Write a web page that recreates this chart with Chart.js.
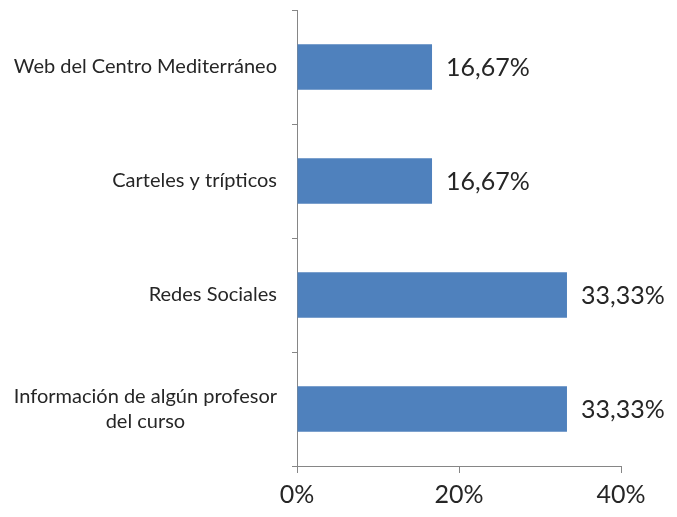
<!DOCTYPE html>
<html>
<head>
<meta charset="utf-8">
<script src="https://cdn.jsdelivr.net/npm/chart.js@4"></script>
<style>
  html, body { margin: 0; padding: 0; background: #fff; }
  #wrap { width: 677px; height: 517px; }
</style>
</head>
<body>
<div id="wrap"><canvas id="barChart" width="677" height="517"></canvas></div>
<script>
// datos del gráfico
const categories = [
  "Web del Centro Mediterráneo",
  "Carteles y trípticos",
  "Redes Sociales",
  ["Información de algún profesor", "del curso"],
]
const values = [16.67, 16.67, 33.33, 33.33]
const valueLabels = ["16,67%", "16,67%", "33,33%", "33,33%"]
const xTickValues = [0, 20, 40]

const textColor = "#262626"
const axisColor = "#868686"
const fontFamily = "Lato, 'Open Sans', sans-serif"

// etiquetas de categorías (centradas entre sí, alineadas a la derecha)
const categoryLabels = {
  id: "categoryLabels",
  afterDraw(chart) {
    const ctx = chart.ctx
    const y = chart.scales.y
    ctx.save()
    ctx.font = "20px " + fontFamily
    ctx.fillStyle = textColor
    ctx.textAlign = "center"
    ctx.textBaseline = "middle"
    const right = 277
    const lineH = 25
    categories.forEach((cat, i) => {
      const lines = Array.isArray(cat) ? cat : [cat]
      const maxW = Math.max(...lines.map((l) => ctx.measureText(l).width))
      const cy = y.getPixelForValue(i)
      const startY = cy - ((lines.length - 1) * lineH) / 2
      lines.forEach((l, k) => {
        ctx.fillText(l, right - maxW / 2, startY + k * lineH)
      })
    })
    ctx.restore()
  },
}

// etiquetas de valores
const valueLabelPlugin = {
  id: "valueLabels",
  afterDatasetsDraw(chart) {
    const ctx = chart.ctx
    const meta = chart.getDatasetMeta(0)
    ctx.save()
    ctx.font = "25px " + fontFamily
    ctx.fillStyle = textColor
    ctx.textAlign = "left"
    ctx.textBaseline = "middle"
    meta.data.forEach((bar, i) => {
      ctx.fillText(valueLabels[i], bar.x + 14, bar.y + 1)
    })
    ctx.restore()
  },
}

const ctx = document.getElementById("barChart").getContext("2d")
new Chart(ctx, {
  type: "bar",
  data: {
    labels: categories,
    datasets: [
      {
        data: values,
        backgroundColor: "#4F81BD",
        borderWidth: 0,
        barPercentage: 0.4,
        categoryPercentage: 1,
      },
    ],
  },
  options: {
    indexAxis: "y",
    responsive: false,
    animation: false,
    layout: { padding: { left: 0, right: 56, top: 10, bottom: 0 } },
    scales: {
      x: {
        min: 0,
        max: 40,
        afterBuildTicks: (scale) => {
          scale.ticks = xTickValues.map((v) => ({ value: v }))
        },
        afterFit: (scale) => {
          scale.height = 51
        },
        border: { display: true, color: axisColor, width: 1 },
        grid: {
          drawOnChartArea: false,
          drawTicks: true,
          tickLength: 7,
          color: axisColor,
        },
        ticks: {
          color: textColor,
          font: { family: fontFamily, size: 25 },
          padding: 7,
          maxRotation: 0,
          callback: (v) => v + "%",
        },
      },
      y: {
        afterFit: (scale) => {
          scale.width = 297
        },
        border: { display: true, color: axisColor, width: 1 },
        grid: {
          offset: true,
          drawOnChartArea: false,
          drawTicks: true,
          tickLength: 5,
          color: axisColor,
        },
        ticks: { display: false },
      },
    },
    plugins: {
      legend: { display: false },
      tooltip: { enabled: false },
    },
  },
  plugins: [categoryLabels, valueLabelPlugin],
})
</script>
</body>
</html>
